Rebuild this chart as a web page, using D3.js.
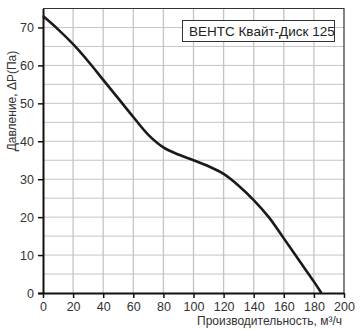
<!DOCTYPE html>
<html><head><meta charset="utf-8">
<script src="https://cdn.jsdelivr.net/npm/d3@7"></script>
<style>body{margin:0;background:#fff}svg{display:block}text{font-family:"Liberation Sans",Arial,sans-serif}</style>
</head><body><svg id="c" width="362" height="330"></svg>
<script>
const flow = [0,10,20,30,40,50,60,70,80,90,100,110,120,130,140,150,160,170,180,185];
const pressure = [73,69.5,65.6,61.1,56.2,51.3,46.4,41.7,38.4,36.5,35.0,33.4,31.4,28.3,24.5,20.0,14.4,8.7,3.0,0];
const xTicks = [0,20,40,60,80,100,120,140,160,180,200];
const yTicks = [0,10,20,30,40,50,60,70];
const title = "ВЕНТС Квайт-Диск 125";
const xLabel = "Производительность, м³/ч";
const yLabel = "Давление, ΔP(Па)";

const svg = d3.select("#c");
const L=43,R=344,T=8.5,B=293;
const x = d3.scaleLinear().domain([0,200]).range([L,R]);
const y = d3.scaleLinear().domain([0,75]).range([B,T]);

const g = svg.append("g");
// grid
g.selectAll(".hg").data(d3.range(5,75,5)).join("line")
 .attr("x1",L).attr("x2",R).attr("y1",d=>y(d)).attr("y2",d=>y(d))
 .attr("stroke","#c4c4c4").attr("stroke-width",1);
g.selectAll(".vg").data(xTicks.slice(1,-1)).join("line")
 .attr("y1",T).attr("y2",B).attr("x1",d=>x(d)).attr("x2",d=>x(d))
 .attr("stroke","#c4c4c4").attr("stroke-width",1.3);
// top/right border
svg.append("path").attr("d",`M${L},${T}H${R}V${B}`).attr("fill","none").attr("stroke","#333").attr("stroke-width",1.2);

// axes
const xa = svg.append("g").attr("transform",`translate(0,${B})`)
 .call(d3.axisBottom(x).tickValues(xTicks).tickSize(5).tickPadding(4).tickSizeOuter(0));
const ya = svg.append("g").attr("transform",`translate(${L},0)`)
 .call(d3.axisLeft(y).tickValues(yTicks).tickSize(5).tickPadding(4).tickSizeOuter(0));
[xa,ya].forEach(a=>{
  a.select(".domain").attr("stroke","#111").attr("stroke-width",2);
  a.selectAll(".tick line").attr("stroke","#111").attr("stroke-width",1.5);
  a.selectAll(".tick text").attr("fill","#333").style("font-size","12.5px").style("font-family","Liberation Sans, Arial, sans-serif");
});
xa.select(".domain").attr("d",`M${L-5},0.5H${R}`);
ya.selectAll(".tick text").attr("dy","0.35em");

// curve
svg.append("path").datum(flow.map((f,i)=>[f,pressure[i]]))
 .attr("d",d3.line().x(d=>x(d[0])).y(d=>y(d[1])).curve(d3.curveCatmullRom.alpha(0.5)))
 .attr("fill","none").attr("stroke","#1a1a1a").attr("stroke-width",2.6);

// legend box
svg.append("rect").attr("x",182.5).attr("y",20.5).attr("width",152).attr("height",21)
 .attr("fill","#fff").attr("stroke","#333").attr("stroke-width",1);
svg.append("text").attr("x",189).attr("y",36).attr("fill","#222").style("font-size","13.5px").text(title);

// labels
svg.append("text").attr("x",342).attr("y",325).attr("text-anchor","end").attr("fill","#333").style("font-size","12px").text(xLabel);
svg.append("text").attr("transform","translate(16,101) rotate(-90)").attr("text-anchor","middle").attr("fill","#333").style("font-size","12px").text(yLabel);
</script></body></html>
